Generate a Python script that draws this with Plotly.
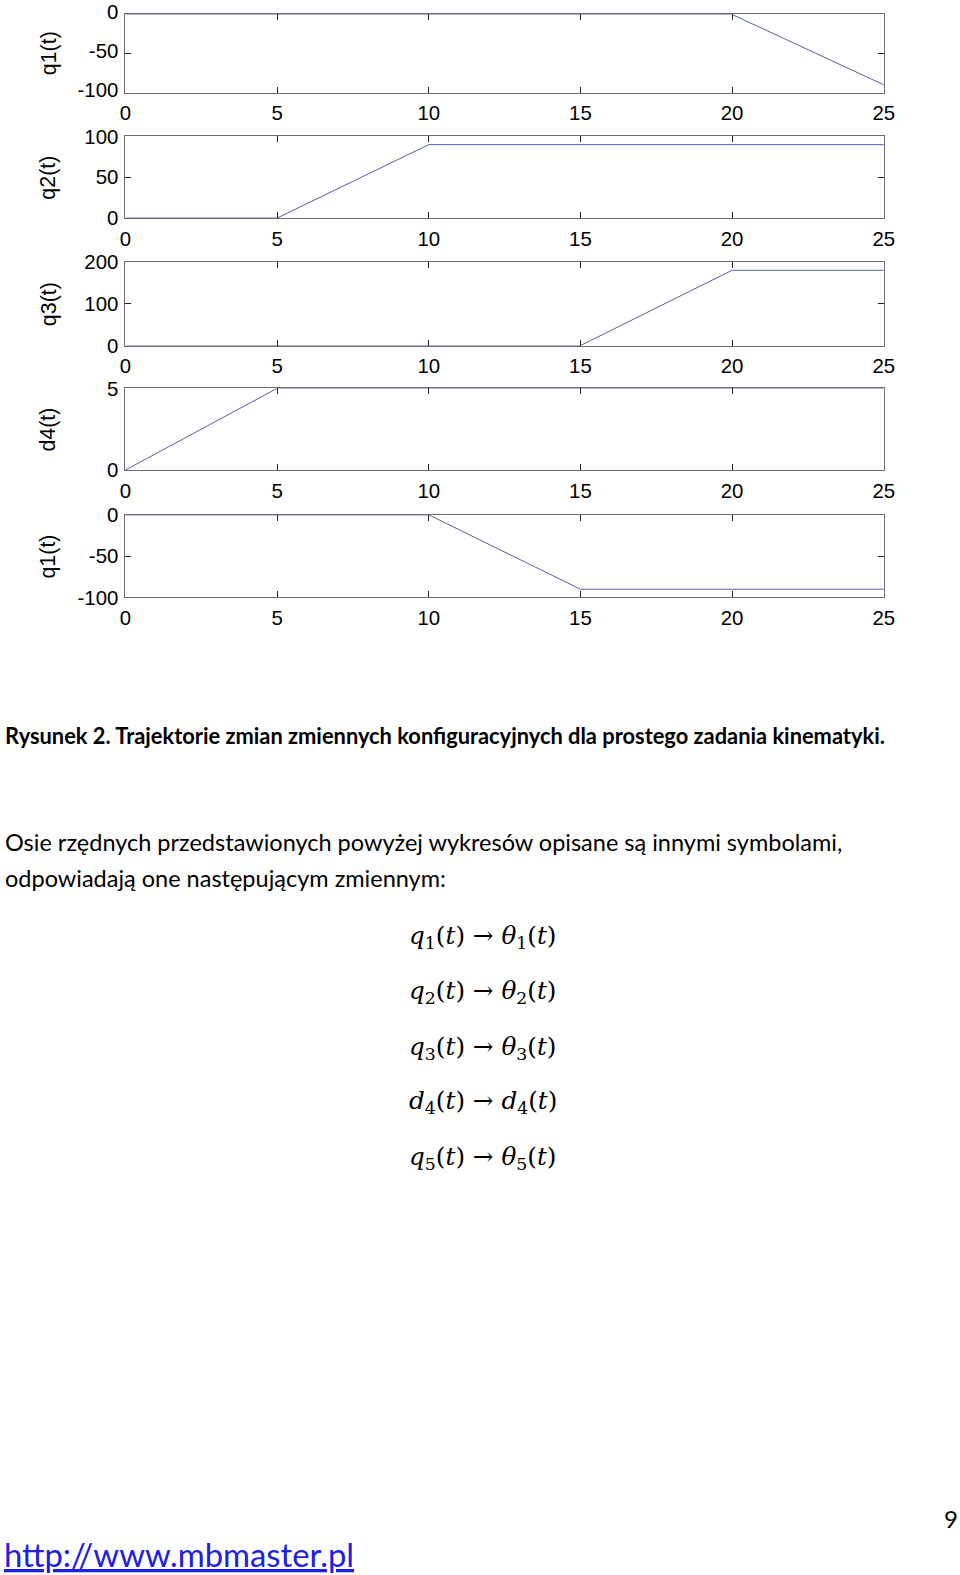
import plotly.graph_objects as go

# ---- data ----
t = [0, 5, 10, 15, 20, 25]
q1_top = [0, 0, 0, 0, 0, -90]
q2 = [0, 0, 90, 90, 90, 90]
q3 = [0, 0, 0, 0, 180, 180]
d4 = [0, 5, 5, 5, 5, 5]
q1_bottom = [0, 0, 0, -90, -90, -90]

series = [q1_top, q2, q3, d4, q1_bottom]
ylabels = ["q1(t)", "q2(t)", "q3(t)", "d4(t)", "q1(t)"]
yranges = [[-100, 0], [0, 100], [0, 200], [0, 5], [-100, 0]]
ytickvals = [[-100, -50, 0], [0, 50, 100], [0, 100, 200], [0, 5], [-100, -50, 0]]
xticks = [0, 5, 10, 15, 20, 25]

# figure size and page->figure pixel conversion (calibrated on the renderer)
W, H = 976, 1591
SX, OX = 0.9958 / 0.978, 5.6 / 0.978
SY, OY = 0.9955 / 0.984, 9.0 / 0.984
FS = 1.02  # font compensation


def fx(xp):
    return SX * xp - OX


def fy(yp):
    return SY * yp - OY


def px(xp):
    return fx(xp) / W


def py(yp):
    return 1 - max(fy(yp), 0.5) / H


# pixel boxes of the panels in page coordinates (top, bottom)
boxes = [(8, 88), (132, 214), (258, 342), (385, 467), (512, 595)]
x0px, x1px = 125, 883

fig = go.Figure()
axfont = dict(family="Liberation Sans, Arial, sans-serif", size=20 * FS, color="black")
layout = dict(width=W, height=H, margin=dict(l=0, r=0, t=0, b=0),
              paper_bgcolor="white", plot_bgcolor="white", showlegend=False,
              annotations=[])

for i, (vals, lab, yr, ytv, (top, bot)) in enumerate(zip(series, ylabels, yranges, ytickvals, boxes)):
    n = i + 1
    xa = "x" if n == 1 else f"x{n}"
    ya = "y" if n == 1 else f"y{n}"
    fig.add_trace(go.Scatter(x=t, y=vals, mode="lines", xaxis=xa, yaxis=ya,
                             line=dict(color="#5a5fae", width=1)))
    common = dict(showline=True, linecolor="#6e6e6e", linewidth=1, mirror="ticks",
                  ticks="inside", ticklen=6, tickcolor="#222", tickwidth=1,
                  showgrid=False, zeroline=False, tickfont=axfont,
                  ticklabeloverflow="allow")
    layout[f"xaxis{n if n > 1 else ''}"] = dict(
        domain=[px(x0px), px(x1px)], anchor=ya, range=[0, 25],
        tickmode="array", tickvals=xticks, ticktext=[str(v) for v in xticks],
        ticklabelstandoff=2, **common)
    yax = dict(
        domain=[py(bot), py(top)], anchor=xa, range=yr,
        tickmode="array", tickvals=ytv, ticktext=[str(v) for v in ytv],
        ticklabelstandoff=2, **common)
    if n == 1:
        yax["ticklabelshift"] = -3  # keep the top "0" mostly inside the drawable area
    layout[f"yaxis{n if n > 1 else ''}"] = yax
    layout["annotations"].append(dict(
        text=lab, textangle=-90, xref="paper", yref="paper",
        x=px(48), y=py((top + bot) / 2), showarrow=False,
        xanchor="center", yanchor="middle",
        font=dict(family=axfont["family"], size=21 * FS, color="black")))

# ---- page text ----
calibri = "Lato, 'Open Sans', sans-serif"
texts = [
    dict(text="<b>Rysunek 2. Trajektorie zmian zmiennych konfiguracyjnych dla prostego zadania kinematyki.</b>",
         x=3, y=734, size=21.85, color="black", anchor="left"),
    dict(text="Osie rzędnych przedstawionych powyżej wykresów opisane są innymi symbolami,",
         x=3, y=841, size=23.5, color="black", anchor="left"),
    dict(text="odpowiadają one następującym zmiennym:",
         x=3, y=877, size=23.5, color="black", anchor="left"),
    dict(text="9", x=959, y=1520, size=24, color="black", anchor="right"),
    dict(text="<u>http://www.mbmaster.pl</u>", x=2, y=1556, size=32.8, color="#2020e0", anchor="left"),
]
for tx in texts:
    layout["annotations"].append(dict(
        text=tx["text"], xref="paper", yref="paper", x=px(tx["x"]), y=py(tx["y"]),
        xanchor=tx["anchor"], yanchor="middle", showarrow=False,
        font=dict(family=calibri, size=tx["size"], color=tx["color"])))

eqs = [
    "<i>q</i><sub>1</sub>(<i>t</i>) → <i>θ</i><sub>1</sub>(<i>t</i>)",
    "<i>q</i><sub>2</sub>(<i>t</i>) → <i>θ</i><sub>2</sub>(<i>t</i>)",
    "<i>q</i><sub>3</sub>(<i>t</i>) → <i>θ</i><sub>3</sub>(<i>t</i>)",
    "<i>d</i><sub>4</sub>(<i>t</i>) → <i>d</i><sub>4</sub>(<i>t</i>)",
    "<i>q</i><sub>5</sub>(<i>t</i>) → <i>θ</i><sub>5</sub>(<i>t</i>)",
]
eq_y = [936, 991, 1047, 1102, 1158]
for e, yy in zip(eqs, eq_y):
    layout["annotations"].append(dict(
        text=e, xref="paper", yref="paper", x=px(482), y=py(yy),
        xanchor="center", yanchor="middle", showarrow=False,
        font=dict(family="'DejaVu Serif', serif", size=24.7, color="black")))

fig.update_layout(**layout)
fig.write_html("out.html")
